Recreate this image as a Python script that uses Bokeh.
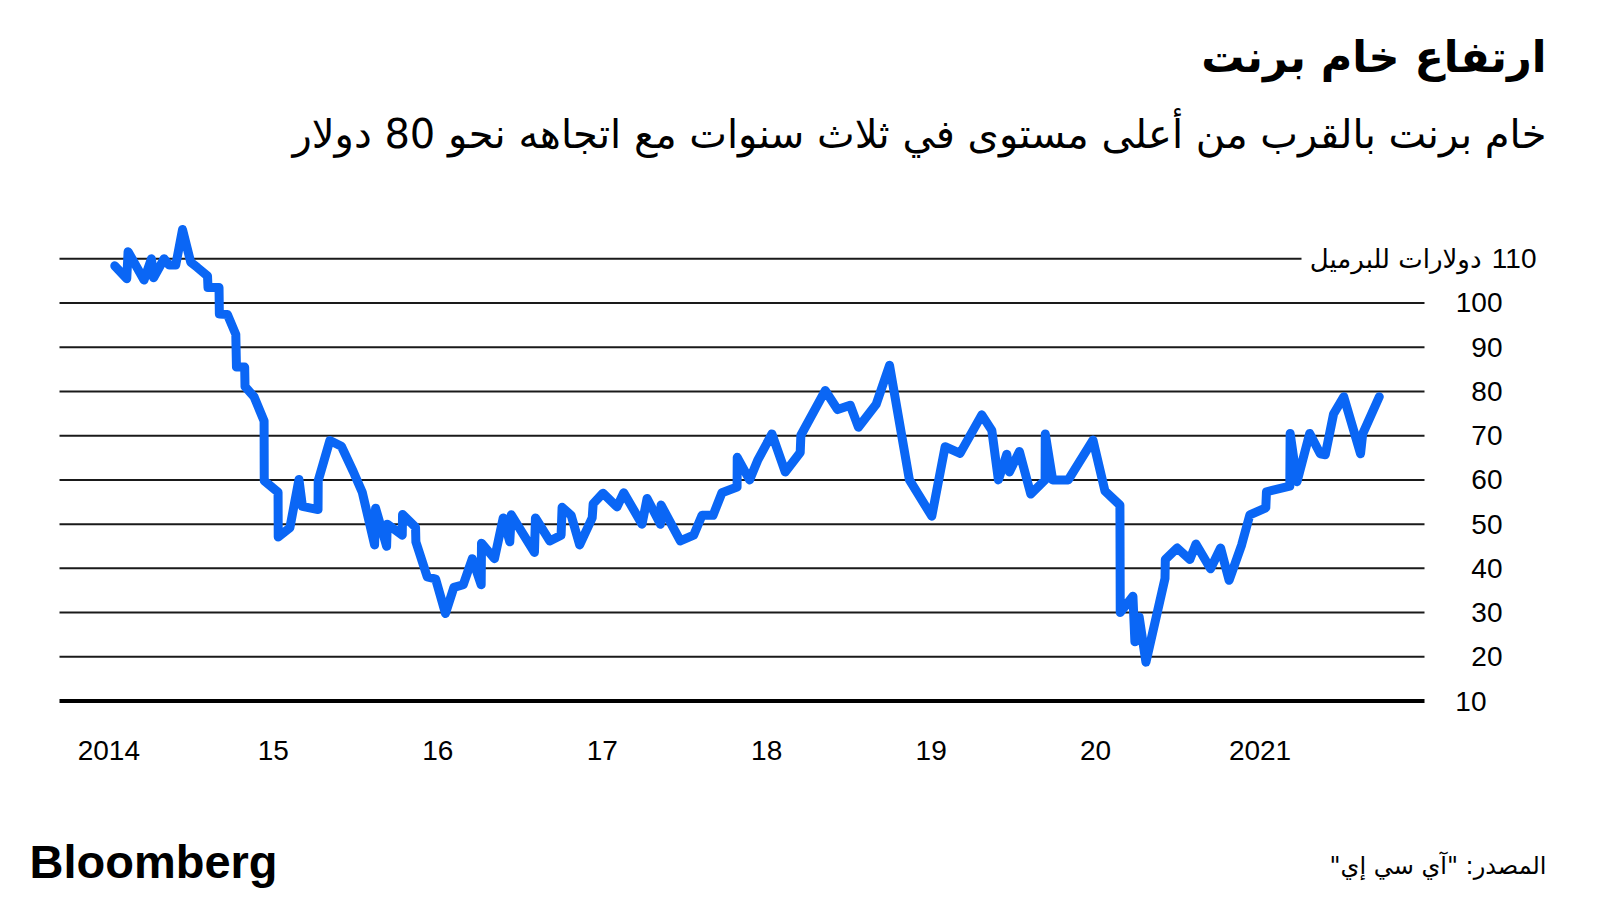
import numpy as np
from bokeh.plotting import figure
from bokeh.models import Range1d, Label
from bokeh.embed import file_html
from bokeh.resources import INLINE

# ---- data (decimal year, Brent $/bbl) ----
dates = [
    2014.036, 2014.109, 2014.117, 2014.214, 2014.259, 2014.272, 2014.336, 2014.366, 2014.407, 2014.448,
    2014.498, 2014.539, 2014.600, 2014.603, 2014.670, 2014.672, 2014.721, 2014.772, 2014.776, 2014.826,
    2014.828, 2014.883, 2014.944, 2014.945, 2015.029, 2015.030, 2015.101, 2015.156, 2015.177, 2015.272,
    2015.273, 2015.344, 2015.414, 2015.486, 2015.541, 2015.616, 2015.622, 2015.689, 2015.693, 2015.784,
    2015.786, 2015.865, 2015.867, 2015.936, 2015.987, 2016.047, 2016.098, 2016.155, 2016.210, 2016.264,
    2016.266, 2016.345, 2016.398, 2016.438, 2016.447, 2016.588, 2016.594, 2016.681, 2016.750, 2016.756,
    2016.811, 2016.863, 2016.939, 2016.945, 2017.005, 2017.090, 2017.131, 2017.242, 2017.273, 2017.354,
    2017.358, 2017.475, 2017.556, 2017.607, 2017.674, 2017.728, 2017.820, 2017.821, 2017.896, 2017.945,
    2018.032, 2018.113, 2018.204, 2018.208, 2018.356, 2018.431, 2018.508, 2018.558, 2018.666, 2018.747,
    2018.868, 2019.004, 2019.085, 2019.176, 2019.308, 2019.369, 2019.409, 2019.460, 2019.476, 2019.537,
    2019.606, 2019.693, 2019.694, 2019.739, 2019.834, 2019.984, 2020.057, 2020.148, 2020.150, 2020.227,
    2020.239, 2020.265, 2020.306, 2020.422, 2020.424, 2020.496, 2020.573, 2020.610, 2020.699, 2020.760,
    2020.812, 2020.888, 2020.938, 2021.035, 2021.039, 2021.181, 2021.183, 2021.225, 2021.302, 2021.366,
    2021.397, 2021.447, 2021.509, 2021.611, 2021.624, 2021.725,
]
brent = [
    108.4, 105.5, 111.6, 105.2, 110.0, 105.7, 110.0, 108.6, 108.6, 116.6,
    109.2, 108.0, 106.1, 103.5, 103.5, 97.5, 97.4, 92.9, 85.5, 85.5,
    81.1, 78.8, 73.3, 59.8, 57.2, 47.1, 49.2, 60.1, 54.0, 53.3,
    59.8, 68.9, 67.6, 61.9, 57.2, 45.3, 53.6, 45.0, 50.0, 47.5,
    52.2, 49.3, 46.0, 38.1, 37.6, 29.8, 35.7, 36.3, 42.2, 36.3,
    45.7, 42.2, 51.4, 46.0, 52.1, 43.6, 51.4, 46.2, 47.5, 53.8,
    52.0, 45.3, 51.4, 54.6, 57.0, 53.9, 57.1, 50.0, 55.8, 50.0,
    54.3, 46.2, 47.5, 52.0, 52.0, 57.1, 58.4, 65.1, 60.0, 64.4,
    70.4, 61.8, 66.2, 70.1, 80.2, 75.9, 76.9, 71.9, 77.1, 85.9,
    60.0, 51.8, 67.5, 66.0, 74.7, 71.2, 60.0, 65.8, 61.8, 66.4,
    56.8, 60.0, 70.4, 60.0, 60.0, 69.0, 57.5, 54.3, 30.0, 33.7,
    23.4, 29.0, 18.8, 37.7, 42.0, 44.6, 42.0, 45.5, 39.9, 44.6,
    37.3, 45.3, 52.1, 53.7, 57.3, 58.6, 70.5, 59.6, 70.5, 65.9,
    65.7, 74.9, 78.8, 65.9, 70.4, 78.8,
]

tick_years = [2014, 2015, 2016, 2017, 2018, 2019, 2020, 2021]
tick_labels = ["2014", "15", "16", "17", "18", "19", "20", "2021"]
grid_levels = [20, 30, 40, 50, 60, 70, 80, 90, 100]
label_levels = [10, 20, 30, 40, 50, 60, 70, 80, 90, 100]
base_level = 10
top_level = 110
top_unit = "دولارات للبرميل"

title_text = "ارتفاع خام برنت"
subtitle_text = "خام برنت بالقرب من أعلى مستوى في ثلاث سنوات مع اتجاهه نحو 80 دولار"
source_text = "المصدر: \"آي سي إي\"\u200f"
brand_text = "Bloomberg"

# ---- layout: the frame fills the whole canvas ----
W, H = 1600, 900
PL, PR, PT, PB = 59, 1424, 214, 705      # plot area in pixels
VX0, VX1 = 2013.70, 2022.0               # its value extent
VY0, VY1 = 9, 120
kx = (VX1 - VX0) / (PR - PL)
ky = (VY1 - VY0) / (PB - PT)

def sx(px):
    return VX0 + (px - PL) * kx

def sy(py):
    return VY0 + (PB - py) * ky

p = figure(width=W, height=H, output_backend="svg", toolbar_location=None,
           x_range=Range1d(sx(0), sx(W)), y_range=Range1d(sy(H), sy(0)),
           x_axis_location=None, y_axis_location=None,
           min_border=0)
p.outline_line_color = None
p.background_fill_color = "white"
p.border_fill_color = "white"
p.xgrid.visible = False
p.ygrid.visible = False

AR_FONT = "DejaVu Sans"
NUM_FONT = "Liberation Sans"
GRID = "#1a1a1a"

# grid lines
x_left, x_right = sx(59), sx(1424)
p.segment(x0=[x_left] * len(grid_levels), y0=grid_levels,
          x1=[x_right] * len(grid_levels), y1=grid_levels,
          line_color=GRID, line_width=2)
p.segment(x0=[x_left], y0=[top_level], x1=[sx(1301)], y1=[top_level],
          line_color=GRID, line_width=2)
p.segment(x0=[x_left], y0=[base_level], x1=[x_right], y1=[base_level],
          line_color="#000000", line_width=4)

# data line
p.line(dates, brent, line_color="#0a66f5", line_width=9,
       line_join="round", line_cap="round")

# x tick labels
for yr, lab in zip(tick_years, tick_labels):
    p.add_layout(Label(x=yr, y=sy(750), text=lab, text_align="center",
                       text_baseline="middle", text_font=NUM_FONT,
                       text_font_size="28px", text_color="#000000"))

# y labels
for v in label_levels:
    right_px = 1486 if v == base_level else 1502
    p.add_layout(Label(x=sx(right_px), y=v, text=str(v), text_align="right",
                       text_baseline="middle", text_font=NUM_FONT,
                       text_font_size="28px", text_color="#000000"))
p.add_layout(Label(x=sx(1536), y=top_level, text=str(top_level), text_align="right",
                   text_baseline="middle", text_font=NUM_FONT,
                   text_font_size="28px", text_color="#000000"))
p.add_layout(Label(x=sx(1481), y=top_level, text=top_unit, text_align="right",
                   text_baseline="middle", text_font=AR_FONT,
                   text_font_size="26px", text_color="#000000"))

# titles / footer
p.add_layout(Label(x=sx(1546), y=sy(56), text=title_text, text_align="right",
                   text_baseline="middle", text_font=AR_FONT, text_font_style="bold",
                   text_font_size="43px", text_color="#000000"))
p.add_layout(Label(x=sx(1546), y=sy(133), text=subtitle_text, text_align="right",
                   text_baseline="middle", text_font=AR_FONT,
                   text_font_size="40px", text_color="#000000"))
p.add_layout(Label(x=sx(1546), y=sy(865), text=source_text, text_align="right",
                   text_baseline="middle", text_font=AR_FONT,
                   text_font_size="24px", text_color="#000000"))
p.add_layout(Label(x=sx(29), y=sy(861), text=brand_text, text_align="left",
                   text_baseline="alphabetic", text_font=NUM_FONT, text_font_style="bold",
                   text_font_size="47px", text_color="#000000"))

open("out.html", "w").write(file_html(p, INLINE))
